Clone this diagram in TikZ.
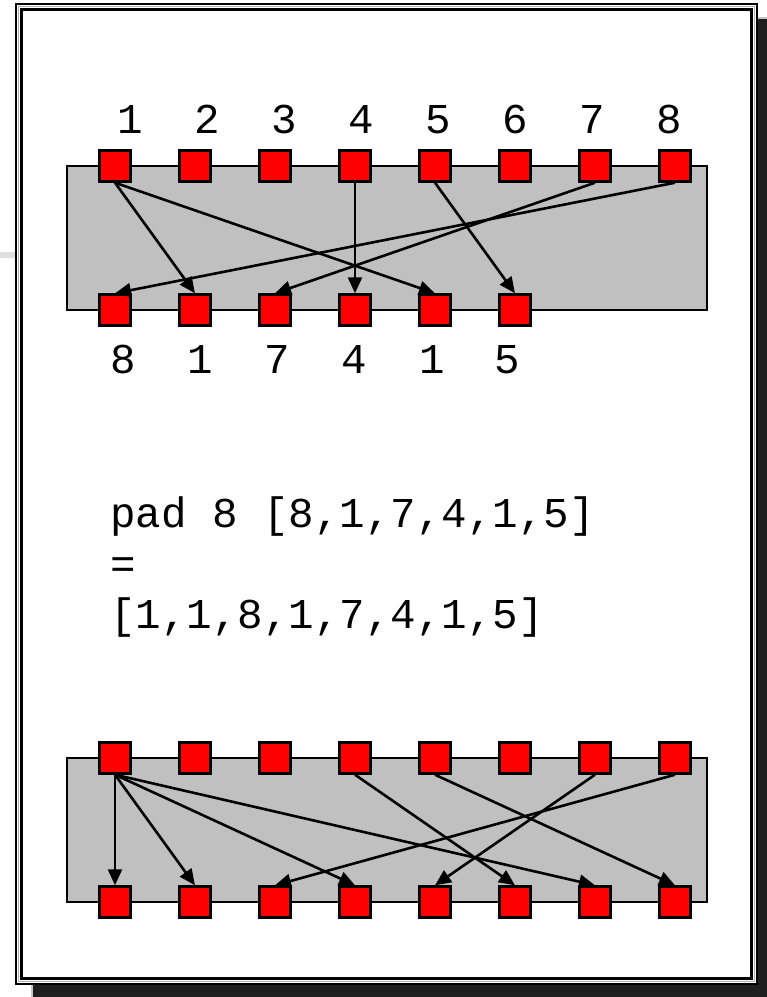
\documentclass[tikz,border=0pt]{standalone}
\usepackage{fontspec}
\setmonofont{Liberation Mono}
\usepackage{tikz}
\usetikzlibrary{arrows.meta,backgrounds}
\definecolor{boardgray}{RGB}{192,192,192}
\definecolor{shadowgray}{RGB}{30,30,30}
\newcommand{\pincolor}{red}
\newcommand{\pinsize}{31pt}
\newcommand{\wirewidth}{2.6pt}
\tikzset{
  pin/.style={draw, fill=\pincolor, line width=2.4pt, minimum size=\pinsize, inner sep=0pt},
  num/.style={anchor=base, inner sep=0pt, font=\ttfamily\fontsize{42.5}{50.5}\selectfont},
  code/.style={num, anchor=base west},
  wire/.style={line width=\wirewidth, -{Triangle[length=16pt,width=14pt]}},
  board/.style={fill=boardgray, draw, line width=1.8pt}
}

\begin{document}
\begin{tikzpicture}[x=1pt, y=-1pt]
\useasboundingbox (0,0) rectangle (767,997);
% slide frame with its shadow
\fill[shadowgray] (32,18) rectangle (774,1002);
\draw[gray!45, line width=1.5pt] (32,1002) -- (32,985) (757,18) -- (774,18);
\fill[gray!25] (0,252) rectangle (16,258);
\draw[fill=white, line width=2.2pt] (16,4) rectangle (757,984);
\draw[gray!60, line width=1pt] (18.5,6.5) rectangle (754.5,981.5);
\draw[line width=2.6pt] (21.5,9.5) rectangle (751.5,978.5);
% upper board
\draw[board] (67,166) rectangle (707,310);
\node[pin] (a1) at (115,166) {};
\node[pin] (a2) at (195,166) {};
\node[pin] (a3) at (275,166) {};
\node[pin] (a4) at (355,166) {};
\node[pin] (a5) at (435,166) {};
\node[pin] (a6) at (515,166) {};
\node[pin] (a7) at (595,166) {};
\node[pin] (a8) at (675,166) {};
\node[pin] (b1) at (115,310) {};
\node[pin] (b2) at (195,310) {};
\node[pin] (b3) at (275,310) {};
\node[pin] (b4) at (355,310) {};
\node[pin] (b5) at (435,310) {};
\node[pin] (b6) at (515,310) {};
\node[num] (n1) at (130,133) {1};
\node[num] (n2) at (207,133) {2};
\node[num] (n3) at (284,133) {3};
\node[num] (n4) at (361,133) {4};
\node[num] (n5) at (438,133) {5};
\node[num] (n6) at (515,133) {6};
\node[num] (n7) at (592,133) {7};
\node[num] (n8) at (669,133) {8};
\node[num] (m1) at (123,373) {8};
\node[num] (m2) at (200,373) {1};
\node[num] (m3) at (277,373) {7};
\node[num] (m4) at (354,373) {4};
\node[num] (m5) at (432,373) {1};
\node[num] (m6) at (507,373) {5};
\draw[wire] (a1.south) -- (b2.north);
\draw[wire] (a1.south) -- (b5.north);
\draw[wire] (a4.south) -- (b4.north);
\draw[wire] (a5.south) -- (b6.north);
\draw[wire] (a7.south) -- (b3.north);
\draw[wire] (a8.south) -- (b1.north);
% the equation
\node[code] (padcall) at (110,527) {pad 8 [8,1,7,4,1,5]};
\node[code] (padeq) at (110,578) {=};
\node[code] (padresult) at (110,628) {[1,1,8,1,7,4,1,5]};
% lower board
\draw[board] (67,758) rectangle (707,902);
\node[pin] (c1) at (115,758) {};
\node[pin] (c2) at (195,758) {};
\node[pin] (c3) at (275,758) {};
\node[pin] (c4) at (355,758) {};
\node[pin] (c5) at (435,758) {};
\node[pin] (c6) at (515,758) {};
\node[pin] (c7) at (595,758) {};
\node[pin] (c8) at (675,758) {};
\node[pin] (d1) at (115,902) {};
\node[pin] (d2) at (195,902) {};
\node[pin] (d3) at (275,902) {};
\node[pin] (d4) at (355,902) {};
\node[pin] (d5) at (435,902) {};
\node[pin] (d6) at (515,902) {};
\node[pin] (d7) at (595,902) {};
\node[pin] (d8) at (675,902) {};
\draw[wire] (c1.south) -- (d1.north);
\draw[wire] (c1.south) -- (d2.north);
\draw[wire] (c1.south) -- (d4.north);
\draw[wire] (c1.south) -- (d7.north);
\draw[wire] (c4.south) -- (d6.north);
\draw[wire] (c5.south) -- (d8.north);
\draw[wire] (c7.south) -- (d5.north);
\draw[wire] (c8.south) -- (d3.north);
\end{tikzpicture}
\end{document}
